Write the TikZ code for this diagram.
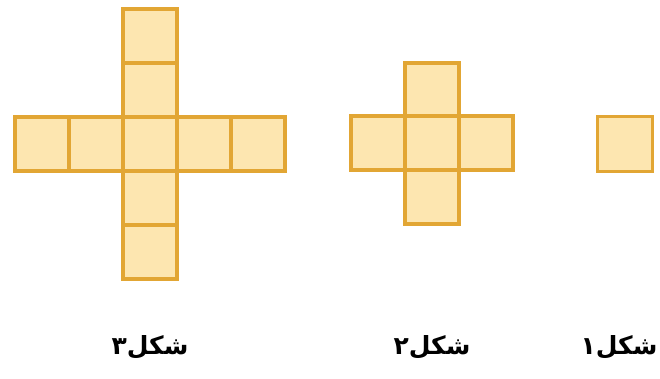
\documentclass[tikz,border=0pt]{standalone}
\usepackage{fontspec}
\TeXXeTstate=1
\newfontfamily\arabicfont[Script=Arabic]{DejaVu Sans}
\definecolor{cellfill}{RGB}{253,230,176}
\definecolor{celldraw}{RGB}{226,166,52}
\begin{document}
\begin{tikzpicture}[x=1pt,y=-1pt,
  cell/.style={draw=celldraw,fill=cellfill,line width=3.2pt,minimum size=54pt,inner sep=0pt,outer sep=0pt},
  caption/.style={font=\arabicfont\bfseries\fontsize{25}{28}\selectfont,inner sep=0pt,text=black}]
\useasboundingbox (0,0) rectangle (660,379);
% figure 3
\node[cell] (a1) at (42,144) {};
\node[cell] (a2) at (96,144) {};
\node[cell] (a4) at (204,144) {};
\node[cell] (a5) at (258,144) {};
\node[cell] (b1) at (150,36) {};
\node[cell] (b2) at (150,90) {};
\node[cell] (b4) at (150,198) {};
\node[cell] (b5) at (150,252) {};
\node[cell] (a3) at (150,144) {};
% figure 2
\node[cell] (c1) at (378,143) {};
\node[cell] (c3) at (486,143) {};
\node[cell] (c4) at (432,90) {};
\node[cell] (c5) at (432,197) {};
\node[cell] (c2) at (432,143) {};
% figure 1
\node[cell,minimum size=55pt] (d1) at (625,144) {};
% captions
\node[caption] (l3) at (150,347) {\beginR شکل۳\endR};
\node[caption] (l2) at (432,347) {\beginR شکل۲\endR};
\node[caption] (l1) at (619,347) {\beginR شکل۱\endR};
\end{tikzpicture}
\end{document}
